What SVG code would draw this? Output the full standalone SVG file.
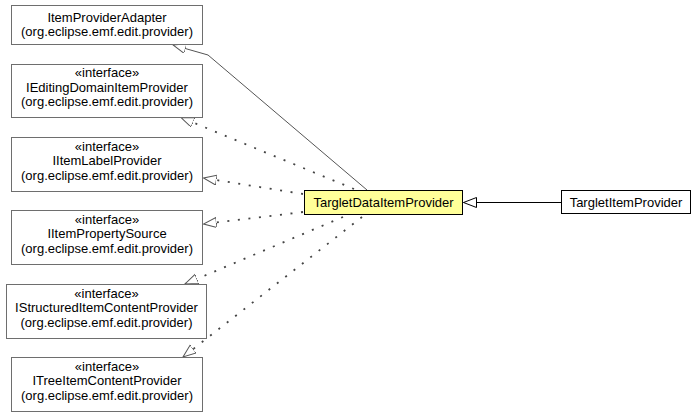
<svg xmlns="http://www.w3.org/2000/svg" width="699" height="417" viewBox="0 0 699 417">
<defs>
<style>
.n rect{fill:#fff;stroke:#6e6e6e;stroke-width:1}
.t rect{fill:#fff;stroke:#000;stroke-width:1}
.y rect{fill:#ffff99;stroke:#000;stroke-width:1}
text{font-family:"Liberation Sans",Arial,sans-serif;font-size:13px;fill:#000;text-anchor:middle}
.c line,.c polyline{fill:none;stroke:#555;stroke-width:1}
.c .d{stroke:#444;stroke-dasharray:2 8.6;stroke-width:1.8}
</style>
<marker id="tri" markerUnits="userSpaceOnUse" markerWidth="16" markerHeight="12" refX="13" refY="5" orient="auto">
<path d="M0,0 L13,5 L0,10 Z" fill="#fff" stroke="#555" stroke-width="1" stroke-dasharray="none"/>
</marker>
<marker id="triB" markerUnits="userSpaceOnUse" markerWidth="16" markerHeight="12" refX="13" refY="5" orient="auto">
<path d="M0,0 L13,5 L0,10 Z" fill="#fff" stroke="#000" stroke-width="1"/>
</marker>
</defs>
<g id="connectors" class="c">
<line x1="561" y1="202.5" x2="463.5" y2="202.5" style="stroke:#000" marker-end="url(#triB)"/>
<polyline points="367,190 208,55 173,45" marker-end="url(#tri)"/>
<line class="d" x1="354" y1="189" x2="181" y2="117.5" marker-end="url(#tri)"/>
<line class="d" x1="303" y1="194" x2="203.5" y2="178" marker-end="url(#tri)"/>
<line class="d" x1="303" y1="212" x2="203.5" y2="224" marker-end="url(#tri)"/>
<line class="d" x1="343" y1="217" x2="185" y2="284" marker-end="url(#tri)"/>
<line class="d" x1="362" y1="217" x2="183" y2="357" marker-end="url(#tri)"/>
</g>
<g id="ItemProviderAdapter" class="n">
<rect x="11.5" y="5.5" width="191" height="39"/>
<text x="107" y="21.5">ItemProviderAdapter</text>
<text x="107" y="36">(org.eclipse.emf.edit.provider)</text>
</g>
<g id="IEditingDomainItemProvider" class="n">
<rect x="11.5" y="64.5" width="191" height="53"/>
<text x="107" y="77">«interface»</text>
<text x="107" y="91.5">IEditingDomainItemProvider</text>
<text x="107" y="106">(org.eclipse.emf.edit.provider)</text>
</g>
<g id="IItemLabelProvider" class="n">
<rect x="11.5" y="137.5" width="191" height="54"/>
<text x="107" y="150.5">«interface»</text>
<text x="107" y="165">IItemLabelProvider</text>
<text x="107" y="179.5">(org.eclipse.emf.edit.provider)</text>
</g>
<g id="IItemPropertySource" class="n">
<rect x="11.5" y="210.5" width="191" height="54"/>
<text x="107" y="223.5">«interface»</text>
<text x="107" y="238">IItemPropertySource</text>
<text x="107" y="252.5">(org.eclipse.emf.edit.provider)</text>
</g>
<g id="IStructuredItemContentProvider" class="n">
<rect x="6.5" y="284.5" width="200" height="54"/>
<text x="106.5" y="297.5">«interface»</text>
<text x="106.5" y="312">IStructuredItemContentProvider</text>
<text x="106.5" y="326.5">(org.eclipse.emf.edit.provider)</text>
</g>
<g id="ITreeItemContentProvider" class="n">
<rect x="11.5" y="357.5" width="191" height="54"/>
<text x="107" y="370.5">«interface»</text>
<text x="107" y="385">ITreeItemContentProvider</text>
<text x="107" y="399.5">(org.eclipse.emf.edit.provider)</text>
</g>
<g id="TargletDataItemProvider" class="y">
<rect x="304.5" y="190.5" width="158" height="24"/>
<text x="383.5" y="207">TargletDataItemProvider</text>
</g>
<g id="TargletItemProvider" class="t">
<rect x="561.5" y="190.5" width="129" height="23"/>
<text x="626" y="207">TargletItemProvider</text>
</g>
</svg>
